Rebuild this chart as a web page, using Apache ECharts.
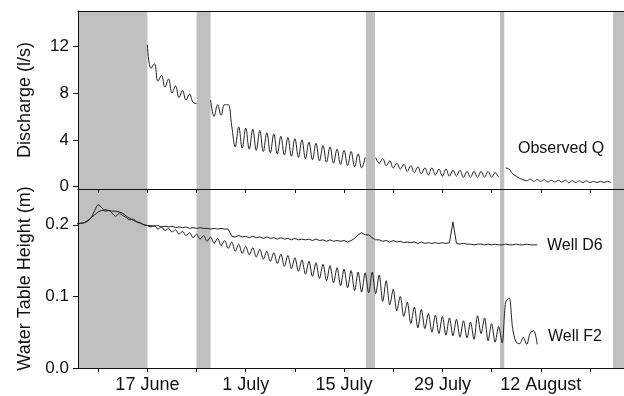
<!DOCTYPE html>
<html>
<head>
<meta charset="utf-8">
<script src="https://cdn.jsdelivr.net/npm/echarts@6/dist/echarts.min.js"></script>
<style>
  html, body { margin: 0; padding: 0; background: #fff; }
  #main { width: 624px; height: 396px; }
</style>
</head>
<body>
<div id="main"></div>
<script>
// x values are days counted from 1 June (17 = 17 June, 31 = 1 July ...)
const xMin = 7.12;
const xMax = 84.85;
const step = 0.5; // samples every half day

const tickDays = [10, 17, 24, 31, 38, 45, 52, 59, 66, 73, 80];
const labelDays = [17, 31, 45, 59, 73];
const tickLabels = ['17 June', '1 July', '15 July', '29 July', '12 August'];

// gray bands (no discharge record)
const bands = [[xMin, 17.0], [24.0, 26.0], [48.1, 49.4], [67.2, 67.8], [83.3, xMax]];

// discharge, l/s, four pieces
const qStartA = 17.0;
const qA = [12.1, 10.1, 10.5, 9.0, 9.5, 8.5, 9.2, 8.0, 8.6, 7.6, 8.2, 7.4, 7.9, 7.2, 7.1];
const qStartB = 26.0;
const qB = [7.4, 6.0, 7.0, 6.1, 7.0, 7.0, 5.2, 3.4, 5.1, 3.3, 5.0, 3.2, 4.9, 3.1, 4.8, 3.0,
  4.6, 2.9, 4.5, 2.8, 4.3, 2.7, 4.2, 2.6, 4.1, 2.5, 4.0, 2.4, 3.8, 2.3, 3.7, 2.2, 3.5, 2.1,
  3.4, 2.0, 3.2, 1.9, 3.1, 1.8, 3.0, 1.7, 2.8, 1.6, 2.5];
const qStartC = 49.5;
const qC = [2.5, 2.0, 2.4, 1.8, 2.2, 1.6, 2.0, 1.5, 1.9, 1.3, 1.8, 1.2, 1.7, 1.1, 1.6, 1.0,
  1.6, 1.0, 1.5, 0.9, 1.5, 0.9, 1.4, 0.9, 1.4, 0.8, 1.3, 0.8, 1.3, 0.8, 1.3, 0.8, 1.3, 0.8, 1.2, 0.8];
const qStartD = 68.0;
const qD = [1.6, 1.5, 1.1, 0.9, 0.7, 0.6, 0.5, 0.65, 0.45, 0.6, 0.45, 0.6, 0.4, 0.55, 0.4, 0.55,
  0.4, 0.55, 0.35, 0.5, 0.35, 0.5, 0.35, 0.5, 0.35, 0.45, 0.35, 0.45, 0.35, 0.45, 0.35];

// water table height, m
const d6Start = 7.0;
const d6 = [0.202, 0.202, 0.203, 0.206, 0.210, 0.214, 0.218, 0.220, 0.221, 0.220,
  0.219, 0.219, 0.218, 0.216, 0.212, 0.209, 0.206, 0.204, 0.202, 0.200,
  0.199, 0.199, 0.198, 0.199, 0.197, 0.198, 0.197, 0.198, 0.196, 0.197,
  0.196, 0.197, 0.195, 0.196, 0.195, 0.196, 0.195, 0.195, 0.194, 0.195,
  0.194, 0.195, 0.194, 0.194, 0.184, 0.183, 0.185, 0.183, 0.184, 0.182,
  0.184, 0.182, 0.183, 0.181, 0.183, 0.181, 0.182, 0.180, 0.182, 0.180,
  0.181, 0.179, 0.181, 0.179, 0.180, 0.179, 0.180, 0.178, 0.180, 0.178,
  0.179, 0.177, 0.179, 0.177, 0.178, 0.177, 0.178, 0.176, 0.178, 0.181,
  0.186, 0.189, 0.186, 0.186, 0.182, 0.179, 0.179, 0.177, 0.178, 0.176,
  0.178, 0.176, 0.177, 0.175, 0.176, 0.175, 0.176, 0.174, 0.176, 0.174,
  0.175, 0.174, 0.175, 0.174, 0.175, 0.174, 0.175, 0.204, 0.174, 0.173,
  0.174, 0.173, 0.173, 0.172, 0.173, 0.173, 0.172, 0.173, 0.172, 0.173,
  0.172, 0.172, 0.173, 0.172, 0.172, 0.173, 0.172, 0.172, 0.173, 0.172,
  0.172, 0.172];
const f2Start = 7.0;
const f2 = [0.201, 0.202, 0.203, 0.205, 0.210, 0.220, 0.228, 0.224, 0.219, 0.220,
  0.216, 0.212, 0.216, 0.213, 0.210, 0.207, 0.208, 0.204, 0.203, 0.200,
  0.199, 0.197, 0.199, 0.194, 0.197, 0.192, 0.195, 0.190, 0.193, 0.187,
  0.191, 0.185, 0.189, 0.182, 0.187, 0.180, 0.185, 0.177, 0.183, 0.174,
  0.181, 0.171, 0.178, 0.167, 0.176, 0.163, 0.173, 0.160, 0.170, 0.158,
  0.168, 0.155, 0.166, 0.152, 0.163, 0.149, 0.161, 0.146, 0.159, 0.142,
  0.157, 0.139, 0.154, 0.135, 0.151, 0.131, 0.149, 0.128, 0.147, 0.125,
  0.145, 0.122, 0.143, 0.119, 0.140, 0.115, 0.138, 0.112, 0.136, 0.108,
  0.134, 0.106, 0.133, 0.105, 0.134, 0.104, 0.130, 0.093, 0.122, 0.088,
  0.110, 0.080, 0.100, 0.072, 0.092, 0.062, 0.085, 0.056, 0.082, 0.055,
  0.076, 0.050, 0.074, 0.048, 0.072, 0.046, 0.070, 0.045, 0.068, 0.043,
  0.066, 0.042, 0.064, 0.040, 0.073, 0.048, 0.070, 0.038, 0.062, 0.036,
  0.058, 0.035, 0.092, 0.098, 0.055, 0.036, 0.034, 0.043, 0.033, 0.049,
  0.052, 0.033];

function pairs(start, vals) {
  return vals.map((v, i) => [start + i * step, v]);
}

const font = 'Liberation Sans, Arial, sans-serif';
const ink = '#111';
const lineCol = '#222';

function xAxisOpt(grid, showLabel) {
  return {
    gridIndex: grid, type: 'value', min: xMin, max: xMax, position: 'bottom', z: 10,
    axisLine: { show: true, onZero: false, lineStyle: { color: ink, width: 1 } },
    axisTick: { show: true, inside: false, length: 4, customValues: tickDays, lineStyle: { color: ink } },
    axisLabel: {
      show: showLabel, customValues: labelDays, margin: 8, fontSize: 18, fontFamily: font, color: ink,
      formatter: v => tickLabels[labelDays.indexOf(Math.round(v))]
    },
    splitLine: { show: false }
  };
}

function yAxisOpt(grid, min, max, ticks, digits, name) {
  return {
    gridIndex: grid, type: 'value', min: min, max: max, z: 10,
    name: name, nameLocation: 'middle', nameGap: 44, nameRotate: 90,
    nameTextStyle: { fontSize: 18, fontFamily: font, color: ink },
    axisLine: { show: true, onZero: false, lineStyle: { color: ink, width: 1 } },
    axisTick: { show: true, inside: false, length: 5, customValues: ticks, lineStyle: { color: ink } },
    axisLabel: {
      customValues: ticks, margin: 9, fontSize: 17, fontFamily: font, color: ink,
      formatter: v => v.toFixed(digits)
    },
    splitLine: { show: false }
  };
}

function lineSeries(grid, data, smooth) {
  return {
    type: 'line', xAxisIndex: grid, yAxisIndex: grid, data: data, z: 3,
    showSymbol: false, smooth: smooth, silent: true,
    lineStyle: { color: lineCol, width: 1 }
  };
}

function bandSeries(grid) {
  return {
    type: 'line', xAxisIndex: grid, yAxisIndex: grid, data: [], z: 1, silent: true,
    markArea: {
      silent: true,
      itemStyle: { color: '#c0c0c0' },
      data: bands.map(b => [{ xAxis: b[0] }, { xAxis: b[1] }])
    }
  };
}

const chart = echarts.init(document.getElementById('main'));
chart.setOption({
  animation: false,
  grid: [
    { left: 78, right: -2, top: 11, height: 178 },
    { left: 78, right: -2, top: 189, bottom: 28 }
  ],
  xAxis: [
    xAxisOpt(0, false),
    xAxisOpt(1, true),
    {
      gridIndex: 0, type: 'value', min: xMin, max: xMax, position: 'top', z: 10,
      axisLine: { show: true, onZero: false, lineStyle: { color: ink, width: 1 } },
      axisTick: { show: false }, axisLabel: { show: false }, splitLine: { show: false }
    }
  ],
  yAxis: [
    yAxisOpt(0, -0.2, 15, [0, 4, 8, 12], 0, 'Discharge (l/s)'),
    yAxisOpt(1, 0, 0.25, [0, 0.1, 0.2], 1, 'Water Table Height (m)')
  ],
  series: [
    bandSeries(0),
    bandSeries(1),
    lineSeries(0, pairs(qStartA, qA), 0.4),
    lineSeries(0, pairs(qStartB, qB), 0.4),
    lineSeries(0, pairs(qStartC, qC), 0.4),
    lineSeries(0, pairs(qStartD, qD), 0.4),
    lineSeries(1, pairs(d6Start, d6), false),
    lineSeries(1, pairs(f2Start, f2), 0.3)
  ],
  graphic: [
    { type: 'text', left: 86, top: 23, style: { text: 'A', fontSize: 18, fontFamily: font, fill: ink } },
    { type: 'text', left: 85, top: 238, style: { text: 'B', fontSize: 18, fontFamily: font, fill: ink } },
    { type: 'text', left: 518, top: 141, style: { text: 'Observed Q', fontSize: 16, fontFamily: font, fill: ink } },
    { type: 'text', left: 547, top: 238, style: { text: 'Well D6', fontSize: 16, fontFamily: font, fill: ink } },
    { type: 'text', left: 548, top: 329, style: { text: 'Well F2', fontSize: 16, fontFamily: font, fill: ink } }
  ]
});
</script>
</body>
</html>
